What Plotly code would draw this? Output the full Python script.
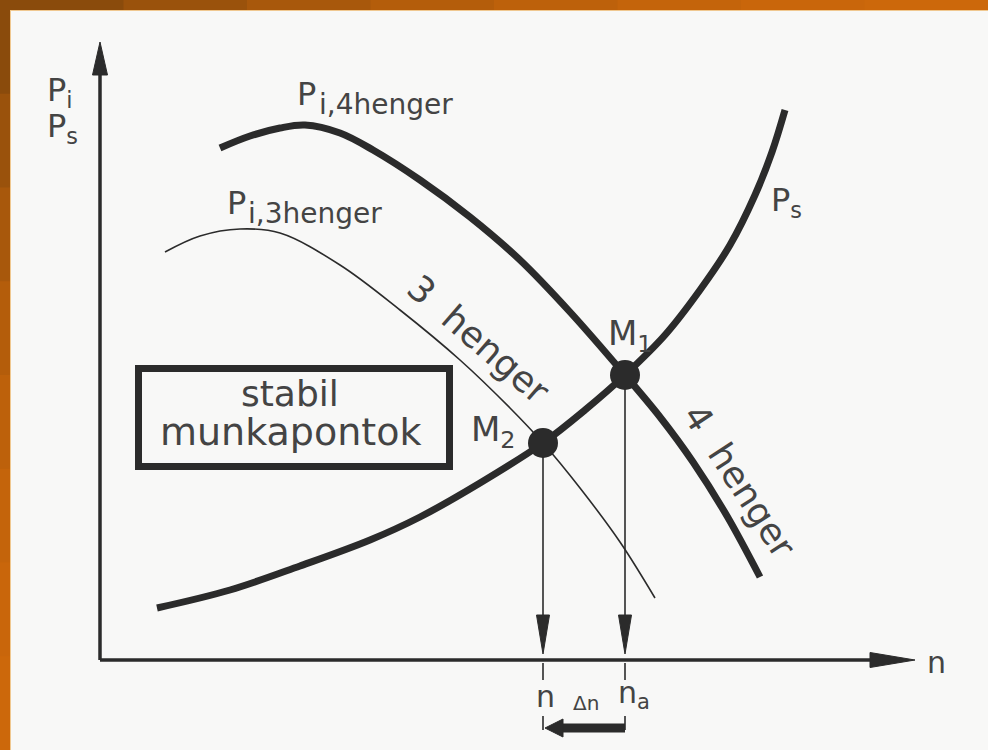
import plotly.graph_objects as go

# ---- data (diagram units: n on x, P on y) ----
ps_n = [0.57, 1.3, 2.0, 2.7, 3.2, 3.8, 4.43, 4.85, 5.25, 5.65, 6.0, 6.3, 6.55, 6.72, 6.85]
ps_P = [0.52, 0.70, 0.94, 1.20, 1.43, 1.77, 2.17, 2.50, 2.85, 3.25, 3.70, 4.15, 4.65, 5.08, 5.50]

pi4_n = [1.2, 1.5, 1.8, 2.05, 2.4, 2.73, 3.2, 3.7, 4.2, 4.7, 5.25, 5.6, 5.93, 6.27, 6.6]
pi4_P = [5.12, 5.24, 5.32, 5.35, 5.27, 5.10, 4.80, 4.43, 4.00, 3.48, 2.85, 2.43, 1.98, 1.44, 0.83]

pi3_n = [0.65, 1.0, 1.4, 1.8, 2.4, 3.0, 3.6, 4.1, 4.43, 4.8, 5.2, 5.55]
pi3_P = [4.08, 4.24, 4.31, 4.27, 3.95, 3.50, 3.00, 2.52, 2.17, 1.72, 1.18, 0.62]

pts_name = ["M1", "M2"]
pts_n = [5.25, 4.43]
pts_P = [2.85, 2.17]

INK = "#2b2b2b"
TXT = "#444444"
FONT = "DejaVu Sans"

fig = go.Figure()

def line(xs, ys, w, color=INK, smooth=False):
    fig.add_trace(go.Scatter(x=xs, y=ys, mode="lines",
                             line=dict(color=color, width=w,
                                       shape="spline" if smooth else "linear",
                                       smoothing=1.0),
                             hoverinfo="skip", showlegend=False))

def tri(xs, ys, color=INK):
    fig.add_trace(go.Scatter(x=xs + [xs[0]], y=ys + [ys[0]], mode="lines", fill="toself",
                             fillcolor=color, line=dict(color=color, width=1),
                             hoverinfo="skip", showlegend=False))

# axes
line([0, 0], [0, 5.9], 3.5)
tri([-0.075, 0.075, 0], [5.85, 5.85, 6.18])
line([0, 7.8], [0, 0], 3.5)
tri([7.7, 7.7, 8.15], [0.075, -0.075, 0])

# curves
line(pi3_n, pi3_P, 1.6, smooth=True)
line(pi4_n, pi4_P, 7, smooth=True)
line(ps_n, ps_P, 7, smooth=True)

# drop arrows from working points
for xn, yp in zip(pts_n, pts_P):
    line([xn, xn], [yp, 0.4], 1.6)
    tri([xn - 0.065, xn + 0.065, xn], [0.45, 0.45, 0.06])
    line([xn, xn], [-0.03, -0.2], 1.6)
    line([xn, xn], [-0.56, -0.70], 1.6)

# working point dots
fig.add_trace(go.Scatter(x=pts_n, y=pts_P, mode="markers",
                         marker=dict(size=30, color=INK, line=dict(width=0)),
                         hoverinfo="skip", showlegend=False))

# delta-n arrow
n_lo, n_hi = pts_n[1], pts_n[0]
line([n_hi, n_lo + 0.15], [-0.68, -0.68], 9)
tri([n_lo + 0.2, n_lo + 0.2, n_lo + 0.02], [-0.59, -0.77, -0.68])

# labelled box
fig.add_shape(type="rect", x0=0.385, x1=3.495, y0=1.935, y1=2.915,
              line=dict(color=INK, width=7), fillcolor="rgba(0,0,0,0)")

def txt(x, y, s, size, angle=0, color=TXT):
    fig.add_annotation(x=x, y=y, text=s, showarrow=False, textangle=angle,
                       font=dict(family=FONT, size=size, color=color),
                       xanchor="center", yanchor="middle")

txt(1.90, 2.67, "stabil", 36)
txt(1.90, 2.28, "munkapontok", 38)

txt(2.06, 5.66, "P", 32)
txt(2.86, 5.56, "i,4henger", 28)
txt(1.36, 4.57, "P", 32)
txt(2.15, 4.47, "i,3henger", 28)
txt(6.86, 4.58, "P<sub>s</sub>", 32)

txt(-0.40, 5.68, "P<sub>i</sub>", 32)
txt(-0.38, 5.32, "P<sub>s</sub>", 32)

txt(3.79, 3.21, "3  henger", 36, angle=41)
txt(6.40, 1.79, "4  henger", 36, angle=57)

txt(5.30, 3.25, "M<sub>1</sub>", 34)
txt(3.93, 2.29, "M<sub>2</sub>", 34)

txt(4.45, -0.36, "n", 30)
txt(5.34, -0.34, "n<sub>a</sub>", 30)
txt(4.86, -0.43, "Δn", 20)
txt(8.36, -0.02, "n", 30)

# page background: orange frame and paper
frame = ["#8a4b0c", "#9a520c", "#a8580c", "#b45d0b", "#bd610b", "#c4640b", "#c9660b", "#cc680b"]
shapes = [dict(type="rect", xref="paper", yref="paper", x0=0, x1=1, y0=0, y1=1,
               fillcolor="#c4640b", line=dict(width=0), layer="below")]
k = len(frame)
for i, c in enumerate(frame):
    shapes.append(dict(type="rect", xref="paper", yref="paper", x0=i / k, x1=(i + 1) / k + 0.002,
                       y0=1 - 11 / 750, y1=1, fillcolor=c, line=dict(width=0), layer="below"))
    shapes.append(dict(type="rect", xref="paper", yref="paper", x0=0, x1=11 / 988,
                       y0=1 - (i + 1) / k - 0.002, y1=1 - i / k, fillcolor=c,
                       line=dict(width=0), layer="below"))
shapes.append(dict(type="rect", xref="paper", yref="paper", x0=10 / 988, x1=1,
                   y0=0, y1=1 - 10 / 750, fillcolor="#f0c890", line=dict(width=0), layer="below"))
shapes.append(dict(type="rect", xref="paper", yref="paper", x0=11 / 988, x1=1,
                   y0=0, y1=1 - 11 / 750, fillcolor="#f8f8f7", line=dict(width=0), layer="below"))
for s in shapes:
    fig.add_shape(**s)

fig.update_layout(
    width=988, height=750, margin=dict(l=0, r=0, t=0, b=0),
    paper_bgcolor="#f8f8f7", plot_bgcolor="rgba(0,0,0,0)",
    xaxis=dict(range=[-1.0, 8.88], visible=False, fixedrange=True),
    yaxis=dict(range=[-0.9, 6.6], visible=False, fixedrange=True),
    showlegend=False,
)

fig.write_html("out.html", config={"displayModeBar": False},
               post_script="document.body.style.margin='0';document.body.style.overflow='hidden';")
